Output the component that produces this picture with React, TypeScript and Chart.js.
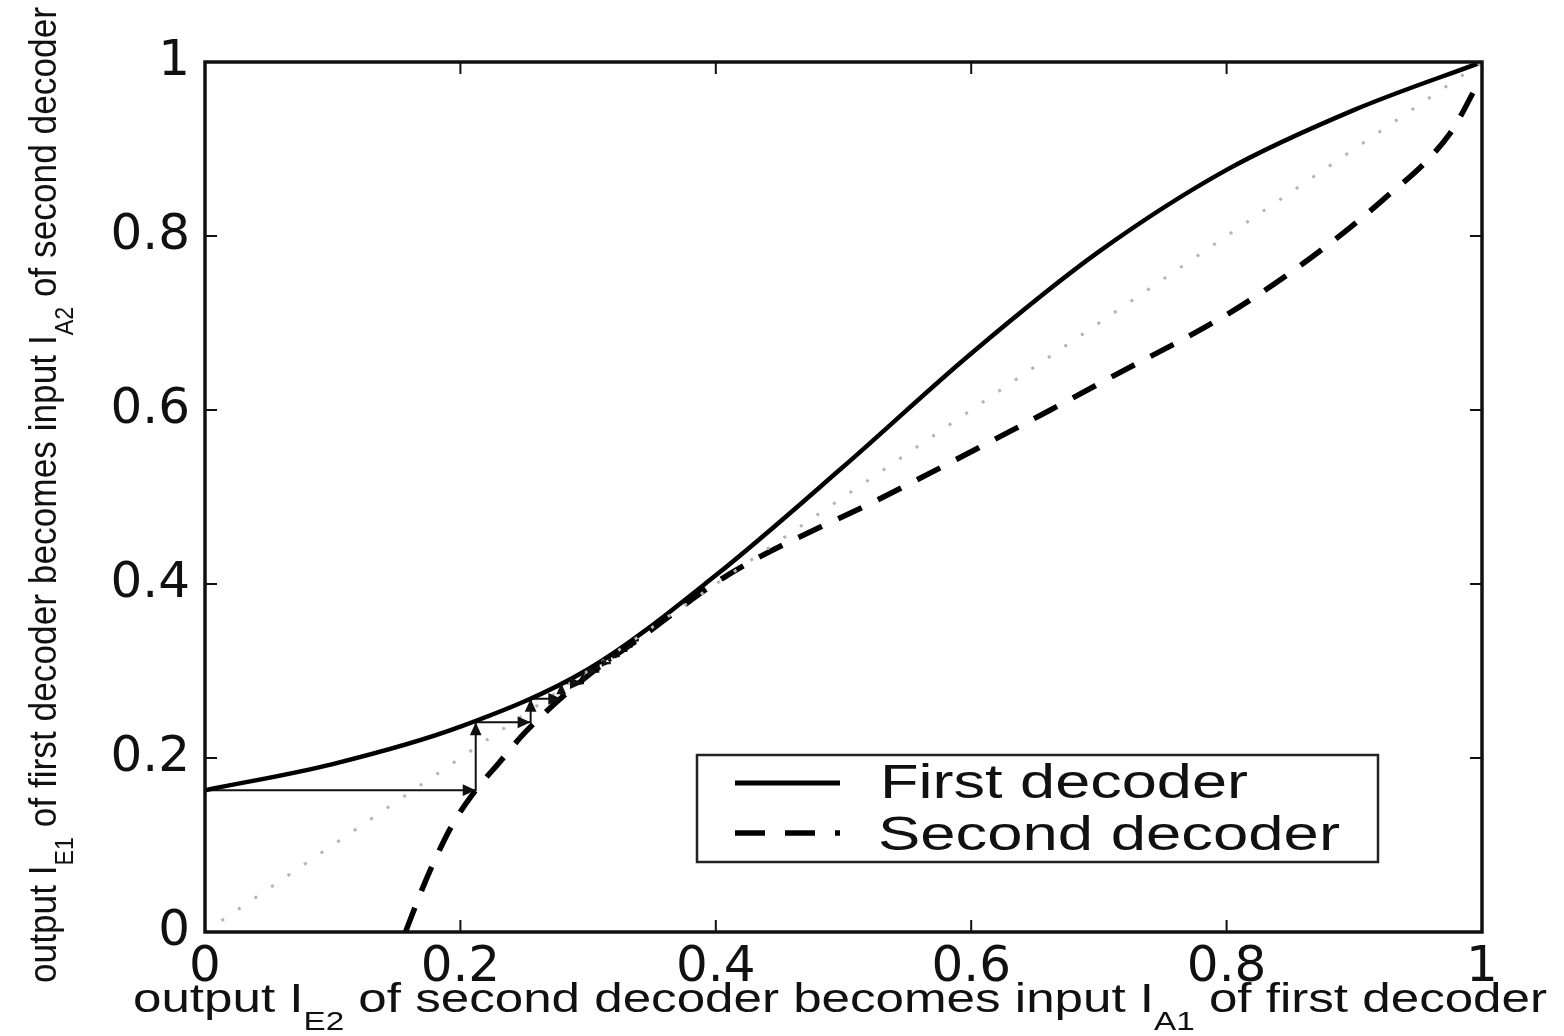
import React, { useEffect, useRef } from 'react';
import { Chart, registerables } from 'chart.js';

Chart.register(...registerables);

// ---- data ----
const tickValues = [0, 0.2, 0.4, 0.6, 0.8, 1];
const tickLabels = ['0', '0.2', '0.4', '0.6', '0.8', '1'];

const diagX = [0, 1];
const diagY = [0, 1];

const firstX = [0, 0.1, 0.2, 0.3, 0.4, 0.5, 0.6, 0.7, 0.8, 0.9, 1];
const firstY = [0.163, 0.193, 0.236, 0.302, 0.41, 0.535, 0.665, 0.782, 0.876, 0.945, 1.0];

const secondX = [0.157, 0.17, 0.181, 0.194, 0.212, 0.23, 0.251, 0.3, 0.34, 0.409, 0.534, 0.662, 0.701, 0.818, 0.922, 0.975, 0.995];
const secondY = [0, 0.049, 0.086, 0.124, 0.163, 0.194, 0.23, 0.295, 0.337, 0.41, 0.502, 0.6, 0.631, 0.726, 0.841, 0.918, 0.97];

const trajX = [0, 0.212, 0.212, 0.255, 0.255, 0.279, 0.279, 0.296, 0.296, 0.308, 0.308, 0.317, 0.317, 0.324, 0.324, 0.33, 0.33, 0.334, 0.334, 0.337, 0.337, 0.339, 0.339];
const trajY = [0.163, 0.163, 0.241, 0.241, 0.268, 0.268, 0.286, 0.286, 0.299, 0.299, 0.309, 0.309, 0.317, 0.317, 0.323, 0.323, 0.328, 0.328, 0.332, 0.332, 0.335, 0.335, 0.337];

const legendLabels = ['First decoder', 'Second decoder'];
const xTitleParts = [
  { t: 'output I' }, { t: 'E2', sub: true }, { t: ' of second decoder becomes input I' }, { t: 'A1', sub: true }, { t: ' of first decoder' },
];
const yTitleParts = [
  { t: 'output I' }, { t: 'E1', sub: true }, { t: ' of first decoder becomes input I' }, { t: 'A2', sub: true }, { t: ' of second decoder' },
];

type Part = { t: string; sub?: boolean };

function drawRich(ctx: CanvasRenderingContext2D, parts: Part[], size: number, subSize: number, subDy: number, targetW: number) {
  const mainFont = `${size}px "Liberation Sans", Arial, sans-serif`;
  const subFont = `${subSize}px "Liberation Sans", Arial, sans-serif`;
  let total = 0;
  const widths = parts.map((p) => {
    ctx.font = p.sub ? subFont : mainFont;
    const w = ctx.measureText(p.t).width;
    total += w;
    return w;
  });
  const sx = targetW / total;
  ctx.save();
  ctx.scale(sx, 1);
  let x = 0;
  ctx.textBaseline = 'alphabetic';
  ctx.textAlign = 'left';
  parts.forEach((p, i) => {
    ctx.font = p.sub ? subFont : mainFont;
    ctx.fillText(p.t, x, p.sub ? subDy : 0);
    x += widths[i];
  });
  ctx.restore();
}

function fitText(ctx: CanvasRenderingContext2D, text: string, x: number, y: number, size: number, targetW: number) {
  ctx.save();
  ctx.font = `${size}px "Liberation Sans", Arial, sans-serif`;
  const w = ctx.measureText(text).width;
  ctx.translate(x, y);
  ctx.scale(targetW / w, 1);
  ctx.textBaseline = 'alphabetic';
  ctx.textAlign = 'left';
  ctx.fillText(text, 0, 0);
  ctx.restore();
}

const decorPlugin = {
  id: 'decor',
  beforeDraw(chart: any) {
    const ctx = chart.ctx as CanvasRenderingContext2D;
    ctx.save();
    ctx.fillStyle = '#ffffff';
    ctx.fillRect(0, 0, chart.width, chart.height);
    ctx.restore();
  },
  afterDatasetsDraw(chart: any) {
    const ctx = chart.ctx as CanvasRenderingContext2D;
    const meta = chart.getDatasetMeta(3);
    ctx.save();
    ctx.fillStyle = '#111';
    for (let i = 1; i < meta.data.length; i++) {
      const a = meta.data[i - 1];
      const b = meta.data[i];
      const dx = b.x - a.x;
      const dy = b.y - a.y;
      const len = Math.hypot(dx, dy);
      if (len < 3) continue;
      const ang = Math.atan2(dy, dx);
      const L = Math.min(13, len * 0.7);
      const W = L * 0.45;
      ctx.beginPath();
      ctx.moveTo(b.x, b.y);
      ctx.lineTo(b.x - L * Math.cos(ang) + W * Math.sin(ang), b.y - L * Math.sin(ang) - W * Math.cos(ang));
      ctx.lineTo(b.x - L * Math.cos(ang) - W * Math.sin(ang), b.y - L * Math.sin(ang) + W * Math.cos(ang));
      ctx.closePath();
      ctx.fill();
    }
    ctx.restore();
  },
  afterDraw(chart: any) {
    const ctx = chart.ctx as CanvasRenderingContext2D;
    const ca = chart.chartArea;
    const xs = chart.scales.x;
    const ys = chart.scales.y;
    ctx.save();
    // frame
    ctx.strokeStyle = '#111';
    ctx.lineWidth = 3.5;
    ctx.strokeRect(ca.left, ca.top, ca.right - ca.left, ca.bottom - ca.top);
    // inward ticks on all sides
    ctx.lineWidth = 2;
    const tl = 12;
    tickValues.forEach((v) => {
      const px = xs.getPixelForValue(v);
      const py = ys.getPixelForValue(v);
      ctx.beginPath();
      ctx.moveTo(px, ca.bottom); ctx.lineTo(px, ca.bottom - tl);
      ctx.moveTo(px, ca.top); ctx.lineTo(px, ca.top + tl);
      ctx.moveTo(ca.left, py); ctx.lineTo(ca.left + tl, py);
      ctx.moveTo(ca.right, py); ctx.lineTo(ca.right - tl, py);
      ctx.stroke();
    });

    // legend
    const lx0 = 697, ly0 = 755, lx1 = 1378, ly1 = 862;
    ctx.fillStyle = '#ffffff';
    ctx.fillRect(lx0, ly0, lx1 - lx0, ly1 - ly0);
    ctx.strokeStyle = '#222';
    ctx.lineWidth = 2.5;
    ctx.strokeRect(lx0, ly0, lx1 - lx0, ly1 - ly0);
    ctx.strokeStyle = '#000';
    ctx.lineWidth = 5;
    ctx.beginPath();
    ctx.moveTo(735, 783); ctx.lineTo(840, 783);
    ctx.stroke();
    ctx.setLineDash([30, 20]);
    ctx.lineWidth = 5.5;
    ctx.beginPath();
    ctx.moveTo(735, 833); ctx.lineTo(840, 833);
    ctx.stroke();
    ctx.setLineDash([]);
    ctx.fillStyle = '#111';
    fitText(ctx, legendLabels[0], 880, 798, 48, 368);
    fitText(ctx, legendLabels[1], 878, 850, 48, 462);

    // axis titles
    ctx.fillStyle = '#111';
    ctx.save();
    ctx.translate(133, 1012);
    drawRich(ctx, xTitleParts, 40, 26, 18, 1414);
    ctx.restore();

    ctx.save();
    ctx.translate(56, 983);
    ctx.rotate(-Math.PI / 2);
    drawRich(ctx, yTitleParts, 38, 25, 17, 976);
    ctx.restore();

    ctx.restore();
  },
};

export default function App() {
  const ref = useRef<HTMLCanvasElement | null>(null);
  useEffect(() => {
    document.body.style.margin = '0';
    document.body.style.overflow = 'hidden';
    const canvas = ref.current;
    if (!canvas) return;
    const tickFont = { family: '"DejaVu Sans", sans-serif', size: 50 };
    const chart = new Chart(canvas, {
      type: 'line',
      data: {
        datasets: [
          {
            label: 'diagonal',
            data: diagX.map((x, i) => ({ x, y: diagY[i] })),
            borderColor: '#b4b4b4',
            borderWidth: 3,
            borderDash: [3, 17],
            pointRadius: 0,
            tension: 0,
          },
          {
            label: legendLabels[0],
            data: firstX.map((x, i) => ({ x, y: firstY[i] })),
            borderColor: '#000',
            borderWidth: 4.5,
            pointRadius: 0,
            cubicInterpolationMode: 'monotone',
          },
          {
            label: legendLabels[1],
            data: secondX.map((x, i) => ({ x, y: secondY[i] })),
            borderColor: '#000',
            borderWidth: 5.5,
            borderDash: [26, 18],
            pointRadius: 0,
            cubicInterpolationMode: 'monotone',
          },
          {
            label: 'trajectory',
            data: trajX.map((x, i) => ({ x, y: trajY[i] })),
            borderColor: '#111',
            borderWidth: 2,
            pointRadius: 0,
            tension: 0,
          },
        ],
      } as any,
      options: {
        animation: false,
        responsive: false,
        devicePixelRatio: 1,
        layout: { padding: { left: 0, right: 82, top: 62, bottom: 0 } },
        plugins: { legend: { display: false }, tooltip: { enabled: false } },
        scales: {
          x: {
            type: 'linear',
            min: 0,
            max: 1,
            afterFit: (s: any) => { s.height = 104; },
            afterBuildTicks: (s: any) => { s.ticks = tickValues.map((v) => ({ value: v })); },
            ticks: {
              callback: (_v: any, i: number) => tickLabels[i],
              font: tickFont,
              color: '#111',
              padding: 6,
              maxRotation: 0,
              autoSkip: false,
            },
            grid: { display: false, drawTicks: false },
            border: { display: false },
          },
          y: {
            type: 'linear',
            min: 0,
            max: 1,
            afterFit: (s: any) => { s.width = 205; },
            afterBuildTicks: (s: any) => { s.ticks = tickValues.map((v) => ({ value: v })); },
            ticks: {
              callback: (_v: any, i: number) => tickLabels[i],
              font: tickFont,
              color: '#111',
              padding: 15,
              autoSkip: false,
            },
            grid: { display: false, drawTicks: false },
            border: { display: false },
          },
        },
      } as any,
      plugins: [decorPlugin],
    });
    return () => chart.destroy();
  }, []);
  return (
    <div style={{ width: 1564, height: 1036 }}>
      <canvas ref={ref} width={1564} height={1036} style={{ display: 'block' }} />
    </div>
  );
}
